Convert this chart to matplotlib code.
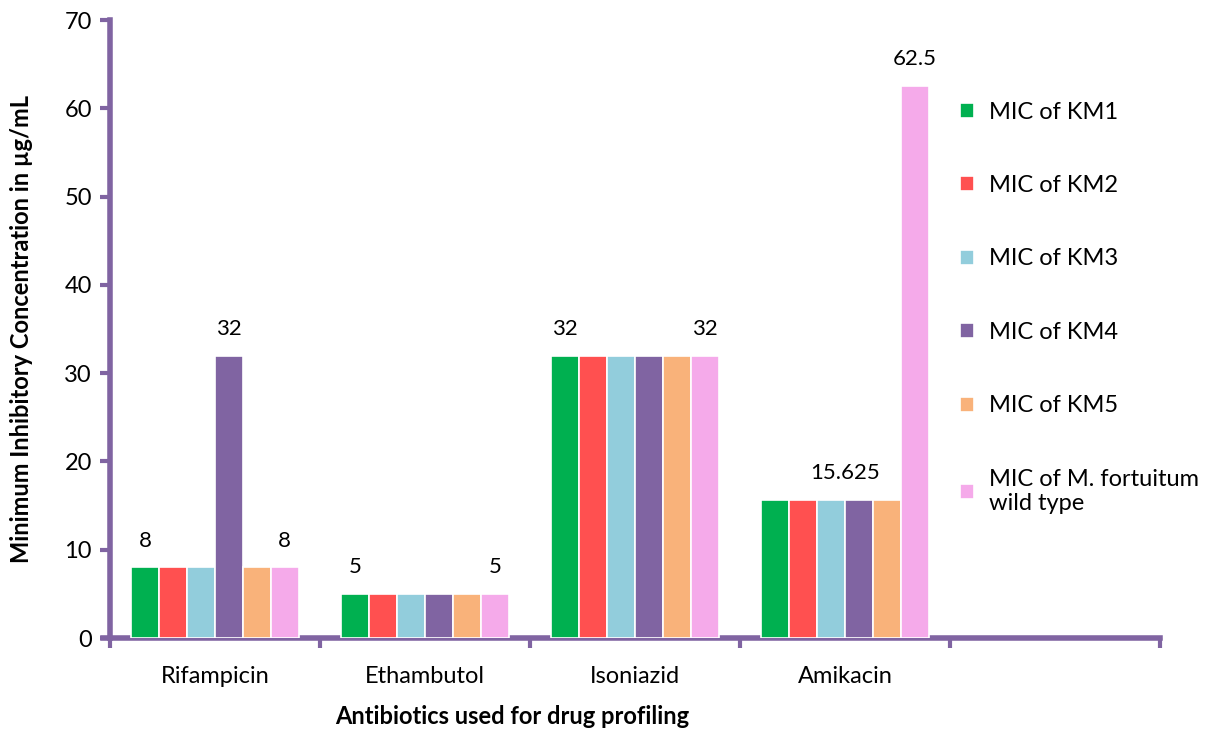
import numpy as np
import matplotlib.pyplot as plt

# data
drugs = ['Rifampicin', 'Ethambutol', 'Isoniazid', 'Amikacin']
series = ['MIC of KM1', 'MIC of KM2', 'MIC of KM3', 'MIC of KM4', 'MIC of KM5',
          'MIC of M. fortuitum\nwild type']
km1 = [8, 5, 32, 15.625]
km2 = [8, 5, 32, 15.625]
km3 = [8, 5, 32, 15.625]
km4 = [32, 5, 32, 15.625]
km5 = [8, 5, 32, 15.625]
wild = [8, 5, 32, 62.5]
values = [km1, km2, km3, km4, km5, wild]
colors = ['#00B050', '#FF5050', '#92CDDC', '#8064A2', '#F9B27A', '#F5AAEA']

# (series index, drug index) of the bars that carry a value label
labelled = [(0, 0), (3, 0), (5, 0), (0, 1), (5, 1), (0, 2), (5, 2), (5, 3)]

axis_col = '#8064A2'
plt.rcParams['font.family'] = ['Lato', 'DejaVu Sans']

fig = plt.figure(figsize=(12.18, 7.31), dpi=100)
ax = fig.add_axes([0.0903, 0.1272, 0.862, 0.8454])

x = np.arange(len(drugs))
w = 0.133
for i, vals in enumerate(values):
    pos = x + (i - 2.5) * w
    ax.bar(pos, vals, width=w, color=colors[i], edgecolor='white', linewidth=1.2,
           label=series[i], zorder=3)

for s, d in labelled:
    v = values[s][d]
    ax.text(x[d] + (s - 2.5) * w, v + 1.9, f'{v:g}', ha='center', va='bottom',
            fontsize=16)
# the Amikacin common value sits over the middle of the group
ax.text(x[3], values[0][3] + 1.9, f'{values[0][3]:g}', ha='center', va='bottom',
        fontsize=16)

# one empty category slot on the right, as in the original
ax.set_xlim(-0.5, len(drugs) + 0.5)
ax.set_ylim(0, 70)
ax.set_yticks(np.arange(0, 71, 10))
ax.set_xticks(x)
ax.set_xticklabels(drugs, fontsize=17)
ax.set_xticks(np.arange(-0.5, len(drugs) + 0.6, 1), minor=True)
ax.tick_params(axis='x', which='major', length=0, pad=20)
ax.tick_params(axis='x', which='minor', length=7, width=3, color=axis_col)
ax.tick_params(axis='y', length=7, width=3, color=axis_col, labelsize=17, pad=6)

for side in ['top', 'right']:
    ax.spines[side].set_visible(False)
for side in ['left', 'bottom']:
    ax.spines[side].set_color(axis_col)
    ax.spines[side].set_linewidth(4)
ax.spines['bottom'].set_bounds(-0.535, len(drugs) + 0.5)

ax.set_ylabel('Minimum Inhibitory Concentration in µg/mL', fontsize=17,
              fontweight='bold')
ax.yaxis.set_label_coords(-0.073, 0.5)
ax.set_xlabel('Antibiotics used for drug profiling', fontsize=17,
              fontweight='bold')
ax.xaxis.set_label_coords(0.383, -0.108)

fig.legend(loc='upper left', bbox_to_anchor=(0.771, 0.89), frameon=False,
           fontsize=17, handlelength=0.6, handleheight=0.6, handletextpad=0.6,
           labelspacing=2.22)

fig.savefig('out.png', dpi=100)
